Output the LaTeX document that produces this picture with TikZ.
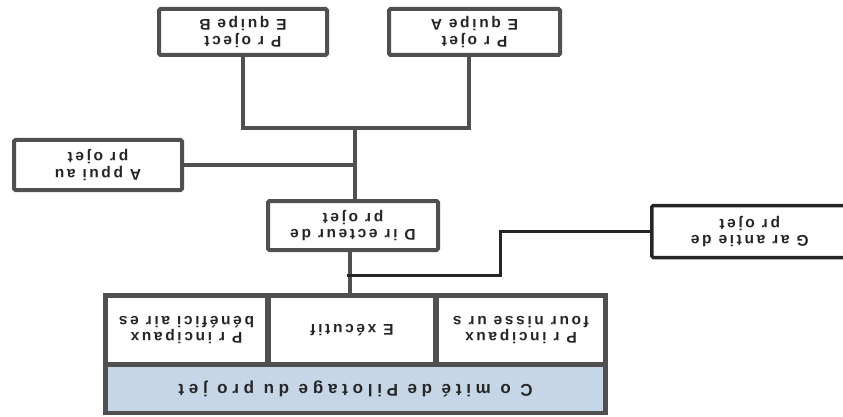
\documentclass[tikz,border=0pt]{standalone}
\usepackage{fontspec}
\setmainfont{Liberation Sans}
\newfontfamily\boxfont{Liberation Sans}[LetterSpace=17]
\newfontfamily\barfont{Liberation Sans}[LetterSpace=28]
\definecolor{frame}{HTML}{505050}
\definecolor{ink}{HTML}{262626}
\definecolor{barblue}{HTML}{C6D6E6}
\begin{document}
\begin{tikzpicture}[x=1pt,y=-1pt,
  txt/.style={align=center, rotate=180, inner sep=0pt, text=ink,
     font=\boxfont\fontsize{15.5}{16.5}\selectfont\bfseries},
  box/.style={txt, draw=frame, line width=4pt, rounded corners=1.5pt, fill=white},
  cell/.style={txt, fill=white},
  link/.style={draw=frame, line width=4pt},
  thinlink/.style={draw=ink, line width=3pt}]
\useasboundingbox (0,0) rectangle (843,417);
\clip (0,0) rectangle (843,417);
% top boxes
\node[box, minimum width=168pt, minimum height=46pt] (eqB) at (243,32) {P r oject\\E quipe  B};
\node[box, minimum width=171pt, minimum height=46pt] (eqA) at (474.5,32) {P r ojet\\E quipe  A};
\node[box, minimum width=168pt, minimum height=50pt] (appui) at (98,165) {A ppui au\\pr ojet};
\node[box, minimum width=170pt, minimum height=49pt] (dir) at (353,225.5) {D ir ecteur  de\\pr ojet};
\node[box, draw=ink, line width=3.5pt, minimum width=196pt, minimum height=52pt] (gar) at (749.75,231.5) {G ar antie  de\\pr ojet};
% bottom frame
\node[fill=frame, inner sep=0pt, minimum width=505pt, minimum height=122pt] (frm) at (355.5,354) {};
\node[cell, minimum width=157pt, minimum height=64pt] (benef) at (186.5,330) {P r incipaux\\bénéfici air es};
\node[cell, minimum width=162pt, minimum height=64pt] (exec) at (352,330) {E xécutif};
\node[cell, minimum width=164pt, minimum height=64pt] (four) at (521,330) {P r incipaux\\four nisse ur s};
\node[cell, fill=barblue, minimum width=495pt, minimum height=44pt,
  font=\barfont\fontsize{17}{18}\selectfont\bfseries] (comite) at (355.5,389) {C o mité  de  Pilotage  du  pro jet};
% connectors
\coordinate (j1) at (355,128);
\coordinate (g0) at (347,275);
\coordinate (g1) at (500,275);
\draw[link] (eqB.north) |- (j1) -| ([xshift=-5.5pt]eqA.north);
\draw[link] (j1) -- (j1 |- dir.south);
\draw[link] (appui.west) -- (appui.west -| j1);
\draw[link] ([xshift=-3pt]dir.north) -- ([xshift=-3pt]dir.north |- frm.north);
\draw[thinlink] (g0) -- (g1) |- (gar.east);
\end{tikzpicture}
\end{document}
